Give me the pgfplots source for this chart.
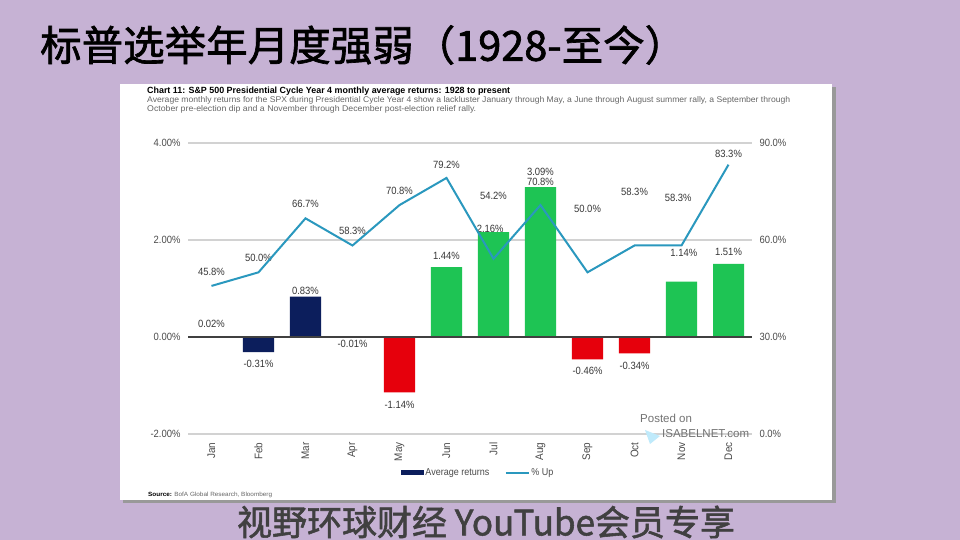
\documentclass[border=0pt]{standalone}
\usepackage{pgfplots}
\pgfplotsset{compat=1.18}
\usepackage{graphicx}
\usepackage{fontspec}
\setmainfont{Liberation Sans}
\newfontfamily\cf[FakeStretch=0.9]{Liberation Sans}
\newfontfamily\cjk[FakeBold=1.6]{Noto Sans CJK SC}
\definecolor{bgp}{RGB}{198,178,212}
\definecolor{navy}{RGB}{12,30,92}
\definecolor{bred}{RGB}{230,0,12}
\definecolor{bgreen}{RGB}{30,196,84}
\definecolor{lteal}{RGB}{42,152,190}
\definecolor{gridc}{RGB}{210,210,210}
\definecolor{txt}{RGB}{75,75,75}
\definecolor{lbl}{RGB}{55,55,55}
\newcommand\lab[3]{\node[font=\cf\fontsize{10.5}{12}\selectfont, text=lbl, inner sep=0pt] at (axis cs:#1,#2) {#3};}
\begin{document}
\begin{tikzpicture}[x=1pt,y=1pt]
\useasboundingbox (0,0) rectangle (960,540);
\clip (0,0) rectangle (960,540);
\fill[bgp] (0,0) rectangle (960,540);
% card
\fill[black!40] (123,37) rectangle (836,453);
\fill[white] (120,40) rectangle (832,456);
% title
\node[anchor=west, inner sep=0pt] at (40,495) {\cjk\fontsize{41.5}{43}\selectfont 标普选举年月度强弱（1928-至今）};
% subtitles
\node[anchor=base west, inner sep=0pt] at (147,446) {\resizebox{363pt}{6.5pt}{\bfseries Chart 11: S\&P 500 Presidential Cycle Year 4 monthly average returns: 1928 to present}};
\node[anchor=base west, inner sep=0pt, text=black!60] at (147,437) {\resizebox{643pt}{6pt}{Average monthly returns for the SPX during Presidential Cycle Year 4 show a lackluster January through May, a June through August summer rally, a September through}};
\node[anchor=base west, inner sep=0pt, text=black!60] at (147,428) {\resizebox{329pt}{6pt}{October pre-election dip and a November through December post-election relief rally.}};
% source
\node[anchor=base west, inner sep=0pt] at (148,43) {\resizebox{124pt}{4.4pt}{\textbf{Source:} \textcolor{black!60}{BofA Global Research, Bloomberg}}};
% bars axis
\begin{axis}[at={(188pt,106pt)}, anchor=south west, width=564pt, height=291pt, scale only axis,
  xmin=-0.5, xmax=11.5, ymin=-2, ymax=4,
  axis line style={draw=none}, major tick length=0pt,
  xtick={0,1,2,3,4,5,6,7,8,9,10,11},
  xticklabels={Jan,Feb,Mar,Apr,May,Jun,Jul,Aug,Sep,Oct,Nov,Dec},
  xticklabel style={rotate=90, anchor=east, font=\cf\fontsize{11}{12}\selectfont, text=txt, xshift=-5pt},
  ytick={-2,0,2,4},
  yticklabels={-2.00\%,0.00\%,2.00\%,4.00\%},
  yticklabel style={font=\cf\fontsize{10.5}{12}\selectfont, text=txt, xshift=-4pt},
  ymajorgrids, grid style={gridc, line width=1.3pt},
  legend style={at={(0.514,-0.134)}, anchor=center, draw=none, fill=none, legend columns=2,
    font=\cf\fontsize{10}{12}\selectfont, text=txt, inner sep=0pt,
    nodes={inner sep=1.5pt},
    /tikz/every even column/.append style={column sep=14pt}},
  legend cell align=left]
\addplot[ybar, bar width=0.66, bar shift=0pt, fill=navy, draw=none,
  legend image code/.code={\fill[navy] (0pt,-2.5pt) rectangle (23pt,2.5pt);}]
  coordinates {(0,0.02) (1,-0.31) (2,0.83) (3,-0.01)};
\addlegendentry{Average returns}
\addlegendimage{legend image code/.code={\draw[lteal, line width=2pt] (0pt,0pt) -- (23pt,0pt);}}
\addlegendentry{\% Up}
\addplot[ybar, bar width=0.66, bar shift=0pt, fill=bred, draw=none, forget plot]
  coordinates {(4,-1.14) (8,-0.46) (9,-0.34)};
\addplot[ybar, bar width=0.66, bar shift=0pt, fill=bgreen, draw=none, forget plot]
  coordinates {(5,1.44) (6,2.16) (7,3.09) (10,1.14) (11,1.51)};
\draw[black!75, line width=1.3pt] (axis cs:-0.5,0) -- (axis cs:11.5,0);
% bar value labels
\lab{0}{0.27}{0.02\%}
\lab{1}{-0.56}{-0.31\%}
\lab{2}{0.95}{0.83\%}
\lab{3}{-0.14}{-0.01\%}
\lab{4}{-1.40}{-1.14\%}
\lab{5}{1.67}{1.44\%}
\lab{5.93}{2.23}{2.16\%}
\lab{7}{3.40}{3.09\%}
\lab{8}{-0.70}{-0.46\%}
\lab{9}{-0.60}{-0.34\%}
\lab{10.05}{1.73}{1.14\%}
\lab{11}{1.75}{1.51\%}
% line value labels
\lab{0}{1.34}{45.8\%}
\lab{1}{1.63}{50.0\%}
\lab{2}{2.74}{66.7\%}
\lab{3}{2.19}{58.3\%}
\lab{4}{3.01}{70.8\%}
\lab{5}{3.55}{79.2\%}
\lab{6}{2.91}{54.2\%}
\lab{7}{3.20}{70.8\%}
\lab{8}{2.64}{50.0\%}
\lab{9}{2.99}{58.3\%}
\lab{9.93}{2.87}{58.3\%}
\lab{11}{3.77}{83.3\%}
\end{axis}
% line axis
\begin{axis}[at={(188pt,106pt)}, anchor=south west, width=564pt, height=291pt, scale only axis,
  xmin=-0.5, xmax=11.5, ymin=0, ymax=90,
  axis line style={draw=none}, major tick length=0pt,
  xtick=\empty,
  ytick={0,30,60,90},
  yticklabels={0.0\%,30.0\%,60.0\%,90.0\%},
  yticklabel pos=right,
  yticklabel style={font=\cf\fontsize{10.5}{12}\selectfont, text=txt, xshift=4pt}]
\addplot[lteal, line width=2pt, mark=none]
  coordinates {(0,45.8) (1,50.0) (2,66.7) (3,58.3) (4,70.8) (5,79.2) (6,54.2) (7,70.8) (8,50.0) (9,58.3) (10,58.3) (11,83.3)};
\end{axis}
% watermark
\node[anchor=west, inner sep=0pt, text=black!55, font=\fontsize{11.5}{13}\selectfont] at (640,122) {Posted on};
\fill[cyan!25] (645,110) -- (660,104) -- (650,96) -- cycle;
\node[anchor=west, inner sep=0pt, text=black!55, font=\fontsize{11.5}{13}\selectfont] at (662,106) {ISABELNET.com};
% bottom caption
\node[inner sep=0pt, text=black!75] at (486,18) {\cjk\fontsize{35}{38}\selectfont 视野环球财经 YouTube会员专享};
\end{tikzpicture}
\end{document}
